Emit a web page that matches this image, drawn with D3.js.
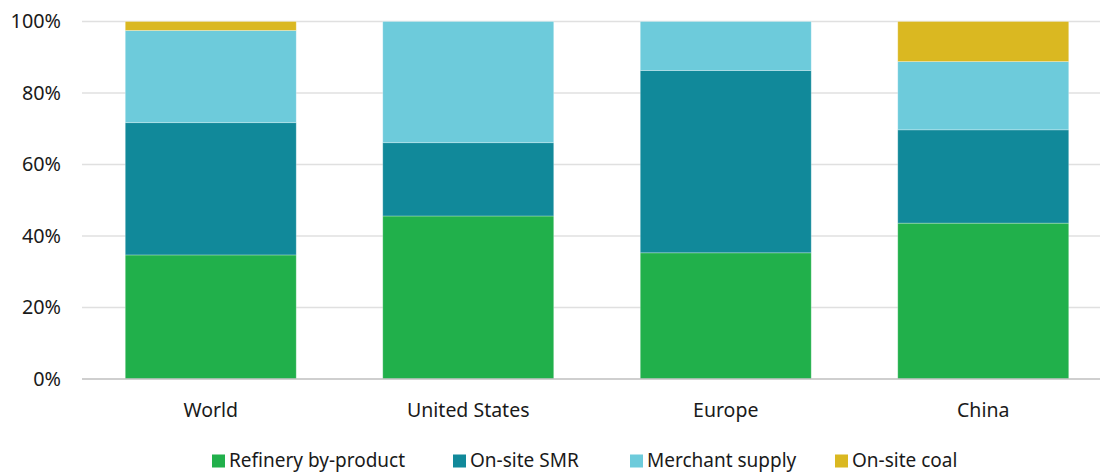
<!DOCTYPE html>
<html><head><meta charset="utf-8">
<script src="https://cdn.jsdelivr.net/npm/d3@7"></script>
<style>body{margin:0;background:#fff}svg{display:block}text{font-family:"Segoe UI","Noto Sans",sans-serif;fill:#1a1a1a}</style>
</head><body><svg id="c" width="1100" height="473"></svg>
<script>
const categories = ["World", "United States", "Europe", "China"];
const seriesNames = ["Refinery by-product", "On-site SMR", "Merchant supply", "On-site coal"];
const refinery = [34.7, 45.6, 35.3, 43.6];
const onsiteSMR = [37.0, 20.5, 51.0, 26.1];
const merchant = [25.8, 33.9, 13.7, 19.1];
const coal = [2.5, 0, 0, 11.2];
const colors = ["#21b04b", "#11899a", "#6dcbdb", "#dab821"];
const yTicks = [0, 20, 40, 60, 80, 100];

(function () {
const svg = d3.select("#c");
const mLeft = 82, mRight = 1112, mTop = 21.5, mBottom = 379;
const x = d3.scaleBand().domain(categories).range([mLeft, mRight]).paddingInner(0.336).paddingOuter(0.168);
const y = d3.scaleLinear().domain([0, 100]).range([mBottom, mTop]);

svg.append("g").selectAll("line").data(yTicks.filter(d => d > 0)).join("line")
  .attr("x1", mLeft).attr("x2", 1100).attr("y1", d => y(d)).attr("y2", d => y(d))
  .attr("stroke", "#e0e0e0").attr("stroke-width", 1.5);

const rows = categories.map((c, i) => ({cat: c, s0: refinery[i], s1: onsiteSMR[i], s2: merchant[i], s3: coal[i]}));
const stack = d3.stack().keys(["s0", "s1", "s2", "s3"])(rows);

svg.append("g").selectAll("g").data(stack).join("g")
  .attr("fill", (d, i) => colors[i])
  .selectAll("rect").data(d => d.filter(p => p[1] - p[0] > 0)).join("rect")
  .attr("x", d => x(d.data.cat)).attr("width", x.bandwidth())
  .attr("y", d => y(d[1])).attr("height", d => y(d[0]) - y(d[1]))
  .attr("stroke", "rgba(255,255,255,0.35)").attr("stroke-width", 0.8);

svg.append("line").attr("x1", mLeft).attr("x2", 1100).attr("y1", mBottom).attr("y2", mBottom)
  .attr("stroke", "#bfbfbf").attr("stroke-width", 1.5);

svg.append("g").selectAll("text").data(yTicks).join("text")
  .attr("x", 61).attr("y", d => y(d)).attr("dy", "0.35em").attr("text-anchor", "end")
  .attr("font-size", 19.8).text(d => d + "%");

svg.append("g").selectAll("text").data(categories).join("text")
  .attr("x", d => x(d) + x.bandwidth() / 2).attr("y", 410).attr("dy", "0.35em")
  .attr("text-anchor", "middle").attr("font-size", 19.5).text(d => d);

const legX = [212, 453, 630, 835];
const lg = svg.append("g").selectAll("g").data(seriesNames).join("g")
  .attr("transform", (d, i) => `translate(${legX[i]},460)`);
lg.append("rect").attr("x", 0).attr("y", -5.5).attr("width", 13).attr("height", 13).attr("fill", (d, i) => colors[i]);
lg.append("text").attr("x", 17).attr("dy", "0.35em").attr("font-size", 19).text(d => d);
})();
</script></body></html>
